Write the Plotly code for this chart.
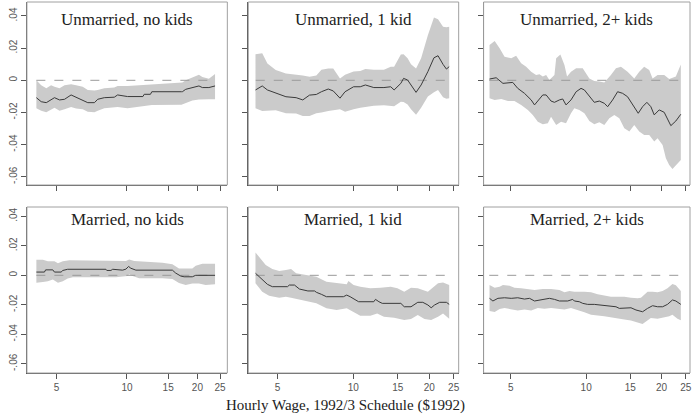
import plotly.graph_objects as go

# ---------------- data (hourly wage, $1992) ----------------
titles = ["Unmarried, no kids", "Unmarried, 1 kid", "Unmarried, 2+ kids",
          "Married, no kids", "Married, 1 kid", "Married, 2+ kids"]
x_ticks = [5, 10, 15, 20, 25]
y_ticks = [-0.06, -0.04, -0.02, 0, 0.02, 0.04]
y_ticktext = ["-.06", "-.04", "-.02", "0", ".02", ".04"]
axis_title = "Hourly Wage, 1992/3 Schedule ($1992)"
wage_span = [4.1, 23.9]

# Panel 1: Unmarried, no kids
p1_w = [4.10, 4.30, 4.52, 4.74, 4.90, 5.15, 5.41, 5.77, 6.06, 6.47, 6.80, 7.26, 7.50, 8.00,
        8.83, 9.12, 10.06, 11.70, 11.85, 12.60, 12.77, 17.10, 17.25, 17.83, 19.03, 20.31, 21.0, 22.4, 23.8]
p1_est = [-0.0108, -0.0133, -0.0139, -0.0122, -0.0108, -0.0122, -0.0118, -0.0091, -0.0105, -0.0122,
          -0.0139, -0.0139, -0.0118, -0.0108, -0.0105, -0.0091, -0.0101, -0.0101, -0.0087, -0.0087,
          -0.0071, -0.0071, -0.0071, -0.0056, -0.0045, -0.0035, -0.0045, -0.0045, -0.0035]
p1_hi = [0.0, -0.003, -0.005, -0.003, -0.004, -0.005, -0.003, -0.0025, -0.003, -0.004, -0.006,
         -0.0064, -0.006, -0.005, -0.0045, -0.0035, -0.0035, -0.003, -0.003, -0.0027, -0.0025,
         -0.0015, -0.0014, 0.0, 0.0016, 0.0035, 0.002, 0.001, 0.004]
p1_lo = [-0.0174, -0.019, -0.0199, -0.018, -0.017, -0.019, -0.018, -0.0166, -0.0175, -0.018,
         -0.0195, -0.0199, -0.019, -0.0174, -0.0168, -0.0166, -0.0174, -0.0160, -0.0158, -0.0155,
         -0.0154, -0.0152, -0.0152, -0.0143, -0.0125, -0.012, -0.0118, -0.0118, -0.0118]

# Panel 2: Unmarried, 1 kid
p2_w = [4.09, 4.35, 4.56, 4.92, 5.40, 5.93, 6.30, 6.70, 7.13, 7.47, 7.95, 8.32, 8.85, 9.27, 10.02,
        10.65, 11.16, 12.05, 13.22, 14.07, 14.51, 15.43, 15.82, 16.41, 16.93, 17.73, 18.57, 19.75,
        20.88, 21.67, 22.69, 23.40, 24.0]
p2_est = [-0.0060, -0.0035, -0.006, -0.0081, -0.0102, -0.0108, -0.0122, -0.0092, -0.0088, -0.0071,
          -0.0054, -0.0066, -0.0111, -0.0071, -0.004, -0.004, -0.0029, -0.0045, -0.0045, -0.004,
          -0.006, -0.0019, 0.0012, 0.0002, -0.0029, -0.0075, -0.0029, 0.0054, 0.014, 0.0153,
          0.0099, 0.007, 0.0085]
p2_hi = [0.0162, 0.0168, 0.0105, 0.0064, 0.0043, 0.0037, 0.003, 0.0022, 0.003, 0.0065, 0.0074,
         0.0074, 0.0012, 0.0035, 0.0055, 0.0058, 0.007, 0.0065, 0.0065, 0.0085, 0.0085, 0.016,
         0.0162, 0.0137, 0.010, 0.0074, 0.0137, 0.0281, 0.039, 0.038, 0.0333, 0.033, 0.0333]
p2_lo = [-0.0174, -0.0191, -0.019, -0.0186, -0.0205, -0.0207, -0.0222, -0.0222, -0.0205, -0.020,
         -0.0191, -0.0185, -0.018, -0.0195, -0.018, -0.017, -0.0165, -0.0158, -0.0155, -0.016,
         -0.0162, -0.0133, -0.0135, -0.015, -0.018, -0.0214, -0.017, -0.010, -0.0075, -0.006,
         -0.0105, -0.0115, -0.0112]

# Panel 3: Unmarried, 2+ kids
p3_w = [4.11, 4.37, 4.65, 5.09, 5.33, 5.67, 6.03, 6.22, 6.71, 6.92, 7.24, 7.47, 7.82, 8.06, 8.31,
        8.70, 9.12, 9.54, 9.84, 10.30, 10.78, 11.29, 11.82, 12.19, 12.76, 13.36, 13.99, 14.64,
        15.33, 16.15, 16.81, 17.49, 18.14, 18.71, 19.59, 20.51, 21.80, 22.83, 23.90]
p3_est = [0.0008, 0.0016, -0.0019, -0.0013, -0.005, -0.0081, -0.0122, -0.0153, -0.0091, -0.0091,
          -0.0129, -0.0137, -0.0122, -0.0116, -0.0153, -0.0122, -0.0071, -0.005, -0.006, -0.0102,
          -0.0137, -0.0129, -0.0143, -0.0164, -0.0122, -0.0071, -0.0081, -0.0102, -0.0153, -0.0205,
          -0.0164, -0.0137, -0.0164, -0.0215, -0.0184, -0.0199, -0.0282, -0.0253, -0.0211]
p3_hi_w = [4.11, 4.31, 4.51, 4.72, 5.02, 5.25, 5.50, 5.76, 6.03, 6.31, 6.51, 6.71, 6.92, 7.13, 7.47,
           7.59, 7.89, 8.19, 8.39, 8.70, 9.12, 9.69, 10.30, 10.78, 11.29, 11.82, 12.56, 13.16, 13.78,
           14.64, 15.57, 16.30, 17.06, 17.87, 18.43, 19.30, 20.51, 21.48, 22.83, 23.90]
p3_hi = [0.0219, 0.0244, 0.0199, 0.0147, 0.0137, 0.0153, 0.0106, 0.0085, 0.0054, 0.0033, 0.0037,
         0.0023, 0.0033, 0.0002, 0.0033, 0.0137, 0.0161, 0.0095, 0.0023, 0.0054, 0.0075, 0.0075,
         0.0012, -0.0004, -0.0008, -0.0013, 0.0033, 0.0075, 0.0085, 0.0054, 0.0012, 0.0054, 0.0085,
         0.0064, 0.0012, 0.0033, 0.0033, 0.0008, 0.0023, 0.0099]
p3_lo_w = [4.11, 4.31, 4.58, 4.87, 5.17, 5.50, 5.85, 6.12, 6.41, 6.71, 7.03, 7.24, 7.59, 7.94, 8.31,
           8.70, 8.97, 9.39, 9.84, 10.30, 10.78, 11.29, 11.82, 12.38, 12.96, 13.57, 14.21, 14.88,
           15.57, 16.30, 17.06, 17.87, 18.71, 19.30, 20.21, 20.83, 21.48, 22.13, 22.83, 23.90]
p3_lo = [-0.0112, -0.0122, -0.0116, -0.0129, -0.0129, -0.0153, -0.0184, -0.0215, -0.0257, -0.0273,
         -0.0267, -0.0226, -0.0278, -0.0257, -0.0267, -0.0205, -0.0174, -0.0184, -0.0205, -0.0253,
         -0.0273, -0.0261, -0.0278, -0.0236, -0.0215, -0.0236, -0.0298, -0.0319, -0.0278, -0.0319,
         -0.034, -0.034, -0.0381, -0.036, -0.0402, -0.0484, -0.0526, -0.0552, -0.0526, -0.0495]

# Panel 4: Married, no kids
p4_w = [4.10, 4.44, 4.49, 4.82, 4.90, 5.23, 5.32, 5.58, 8.13, 8.20, 8.54, 8.69, 9.58, 9.90, 10.16,
        10.39, 10.92, 15.64, 16.16, 16.98, 17.55, 19.03, 19.67, 23.8]
p4_est = [0.0022, 0.0022, 0.0037, 0.0037, 0.0022, 0.0022, 0.0033, 0.0041, 0.0041, 0.0033, 0.0033,
          0.0041, 0.0035, 0.0042, 0.006, 0.0048, 0.0035, 0.0035, 0.0015, -0.0005, -0.001, -0.001,
          0.0, 0.0]
p4_hi_w = [4.10, 4.37, 4.59, 4.90, 5.07, 5.32, 5.68, 8.69, 9.90, 10.22, 10.74, 14.18, 15.64, 16.69,
           19.03, 19.67, 21.0, 23.8]
p4_hi = [0.0105, 0.0105, 0.0095, 0.0095, 0.0081, 0.0095, 0.0102, 0.0097, 0.0097, 0.0108, 0.0097,
         0.0085, 0.0075, 0.0047, 0.0047, 0.0065, 0.0078, 0.0078]
p4_lo_w = [4.10, 4.37, 4.59, 4.82, 5.07, 5.32, 5.58, 5.87, 8.97, 10.06, 10.22, 10.57, 11.28, 14.18,
           15.64, 16.69, 17.83, 19.03, 20.31, 21.7, 23.8]
p4_lo = [-0.005, -0.0045, -0.004, -0.0028, -0.005, -0.004, -0.0022, -0.0013, -0.0013, -0.0005,
         0.0007, -0.0005, -0.002, -0.002, -0.0025, -0.0052, -0.0066, -0.0055, -0.0055, -0.0066, -0.006]

# Panel 5: Married, 1 kid
p5_w = [4.09, 4.22, 4.35, 4.56, 4.77, 5.48, 5.57, 5.84, 6.11, 6.60, 7.02, 7.13, 7.47, 7.82, 9.13,
        9.41, 9.71, 10.02, 10.49, 12.05, 12.24, 12.63, 13.02, 15.43, 15.92, 16.93, 17.46, 18.01,
        18.86, 19.75, 20.36, 21.0, 22.0, 23.4, 24.0]
p5_est = [0.0014, -0.0009, -0.0032, -0.0061, -0.0077, -0.0077, -0.0066, -0.0066, -0.0093, -0.0106,
          -0.0106, -0.0115, -0.0129, -0.0145, -0.0145, -0.0134, -0.0145, -0.0161, -0.0179, -0.0179,
          -0.0163, -0.0179, -0.019, -0.019, -0.0213, -0.0213, -0.0197, -0.0183, -0.0183, -0.0201,
          -0.022, -0.0201, -0.0183, -0.0183, -0.0197]
p5_hi_w = [4.09, 4.28, 4.49, 4.77, 5.08, 5.40, 5.66, 5.93, 6.50, 7.13, 7.82, 8.58, 9.41, 9.56, 10.02,
           10.65, 11.68, 12.82, 14.07, 14.96, 15.92, 16.93, 18.01, 19.75, 20.68, 21.67, 22.69, 24.0]
p5_hi = [0.0155, 0.0115, 0.007, 0.0043, 0.0029, 0.0036, 0.0043, 0.0014, 0.0002, -0.0009, -0.0043,
         -0.0054, -0.0061, -0.0039, -0.0066, -0.0077, -0.0088, -0.0084, -0.0077, -0.0088, -0.0111,
         -0.0084, -0.0088, -0.0111, -0.0084, -0.0054, -0.0048, -0.0066]
p5_lo_w = [4.09, 4.35, 4.63, 5.08, 5.40, 5.66, 6.11, 6.60, 7.13, 7.82, 8.58, 9.41, 10.02, 10.65,
           11.68, 12.43, 13.22, 14.51, 15.92, 16.93, 18.01, 19.15, 20.36, 21.67, 22.69, 24.0]
p5_lo = [-0.0054, -0.0111, -0.0138, -0.0152, -0.0145, -0.0152, -0.0167, -0.0179, -0.019, -0.0224,
         -0.0235, -0.0224, -0.0247, -0.0274, -0.0274, -0.0258, -0.0281, -0.0287, -0.0303, -0.0296,
         -0.0269, -0.0296, -0.0303, -0.0281, -0.0258, -0.0295]

# Panel 6: Married, 2+ kids
p6_w = [4.11, 4.24, 4.44, 4.72, 5.02, 5.33, 5.67, 5.94, 6.22, 6.51, 6.81, 7.13, 7.47, 7.82, 8.44,
        8.84, 8.97, 9.39, 9.69, 10.14, 10.78, 11.46, 12.38, 13.16, 13.57, 14.21, 15.11, 15.82,
        16.81, 17.60, 18.43, 19.30, 20.21, 21.14, 22.13, 22.83, 23.90]
p6_est = [-0.0156, -0.0174, -0.0156, -0.0152, -0.0156, -0.0152, -0.0161, -0.0156, -0.0174, -0.0167,
          -0.0161, -0.0156, -0.0163, -0.0174, -0.0174, -0.0163, -0.0174, -0.0179, -0.019, -0.0197,
          -0.0197, -0.0201, -0.0206, -0.0213, -0.0224, -0.0224, -0.022, -0.0235, -0.0247, -0.0224,
          -0.0206, -0.0213, -0.0213, -0.0197, -0.0167, -0.0174, -0.0197]
p6_hi_w = [4.11, 4.31, 4.51, 4.65, 4.94, 5.17, 5.50, 5.85, 6.22, 6.71, 7.24, 7.82, 8.19, 8.58, 8.97,
           9.84, 10.46, 11.12, 11.82, 12.56, 13.36, 14.21, 15.11, 16.05, 16.56, 17.06, 17.60, 18.43,
           19.30, 20.21, 21.14, 22.13, 22.83, 23.90]
p6_hi = [-0.0066, -0.0084, -0.0077, -0.0066, -0.007, -0.0084, -0.0088, -0.0093, -0.01, -0.0093,
         -0.0093, -0.01, -0.0115, -0.0106, -0.0111, -0.0111, -0.0115, -0.0129, -0.0138, -0.0145,
         -0.0145, -0.0145, -0.0152, -0.0156, -0.0152, -0.0134, -0.0111, -0.0111, -0.0115, -0.0106,
         -0.0088, -0.0058, -0.0068, -0.0106]
p6_lo_w = [4.11, 4.31, 4.51, 4.72, 5.02, 5.33, 5.67, 6.03, 6.41, 6.81, 7.24, 7.70, 8.19, 8.70, 9.25,
           9.84, 10.46, 11.12, 11.82, 12.56, 13.36, 14.21, 15.11, 16.05, 16.81, 17.60, 18.14, 19.30,
           20.51, 21.48, 22.13, 23.17, 23.90]
p6_lo = [-0.0242, -0.0248, -0.0228, -0.0222, -0.0232, -0.0238, -0.0232, -0.0238, -0.0222, -0.0226,
         -0.0222, -0.0226, -0.0232, -0.0222, -0.0238, -0.025, -0.0267, -0.0272, -0.0277, -0.0284,
         -0.029, -0.0299, -0.0306, -0.032, -0.033, -0.0306, -0.029, -0.0295, -0.0284, -0.0277,
         -0.0267, -0.0295, -0.0305]

panels = [
    (p1_w, p1_est, p1_w, p1_hi, p1_w, p1_lo),
    (p2_w, p2_est, p2_w, p2_hi, p2_w, p2_lo),
    (p3_w, p3_est, p3_hi_w, p3_hi, p3_lo_w, p3_lo),
    (p4_w, p4_est, p4_hi_w, p4_hi, p4_lo_w, p4_lo),
    (p5_w, p5_est, p5_hi_w, p5_hi, p5_lo_w, p5_lo),
    (p6_w, p6_est, p6_hi_w, p6_hi, p6_lo_w, p6_lo),
]

# ---------------- layout geometry ----------------
W, H = 693, 417
col_px = [(27, 228), (249, 460), (485, 692)]
row_px = [(2, 185), (207, 373)]
col_xrange = [(0.5724, 1.4291), (0.5831, 1.4178), (0.5902, 1.4151)]
row_yrange = [(-0.0651, 0.0487), (-0.0662, 0.0463)]
title_top_px = [8, 208]

SERIF = "Liberation Serif, Times New Roman, serif"
SANS = "Liberation Sans, Arial, sans-serif"

fig = go.Figure()
layout = dict(width=W, height=H, margin=dict(l=0, r=0, t=0, b=0),
              paper_bgcolor="white", plot_bgcolor="white", showlegend=False)
shapes = []
annotations = []

for i, (ew, ev, hw, hv, lw, lv) in enumerate(panels):
    r, c = divmod(i, 3)
    k = i + 1
    xa = "x" if k == 1 else f"x{k}"
    ya = "y" if k == 1 else f"y{k}"
    # band
    fig.add_trace(go.Scatter(x=list(hw) + list(lw)[::-1], y=list(hv) + list(lv)[::-1],
                             fill="toself", fillcolor="#cbcbcb", mode="lines",
                             line=dict(width=0, color="rgba(0,0,0,0)"),
                             xaxis=xa, yaxis=ya, hoverinfo="skip"))
    # zero reference
    fig.add_trace(go.Scatter(x=wage_span, y=[0, 0], mode="lines",
                             line=dict(color="#9a9a9a", width=1, dash="dash"),
                             xaxis=xa, yaxis=ya, hoverinfo="skip"))
    # estimate
    fig.add_trace(go.Scatter(x=ew, y=ev, mode="lines",
                             line=dict(color="#3a3a3a", width=1),
                             xaxis=xa, yaxis=ya))
    x0, x1 = col_px[c]
    y0, y1 = row_px[r]
    xkey = "xaxis" if k == 1 else f"xaxis{k}"
    ykey = "yaxis" if k == 1 else f"yaxis{k}"
    layout[xkey] = dict(type="log", domain=[x0 / W, x1 / W], range=list(col_xrange[c]),
                        anchor=ya, tickvals=x_ticks, ticktext=[str(t) for t in x_ticks],
                        showticklabels=(r == 1), ticks="outside", ticklen=5, tickwidth=1,
                        tickcolor="#555", showline=True, linecolor="#555", linewidth=1,
                        showgrid=False, zeroline=False, ticklabeloverflow="allow",
                        tickfont=dict(family=SANS, size=10, color="#555"))
    layout[ykey] = dict(domain=[1 - y1 / H, 1 - y0 / H], range=list(row_yrange[r]),
                        anchor=xa, tickvals=y_ticks, ticktext=y_ticktext,
                        showticklabels=(c == 0), tickangle=-90, ticks="outside", ticklen=5,
                        tickwidth=1, tickcolor="#555", showline=True, linecolor="#555",
                        linewidth=1, showgrid=False, zeroline=False,
                        tickfont=dict(family=SANS, size=10, color="#555"))
    shapes.append(dict(type="rect", xref=f"{xa} domain", yref=f"{ya} domain",
                       x0=0, x1=1, y0=0, y1=1, line=dict(color="#a0a0a0", width=1),
                       fillcolor="rgba(0,0,0,0)", layer="above"))
    annotations.append(dict(text=titles[i], x=(x0 + x1) / 2 / W, y=1 - title_top_px[r] / H,
                            xref="paper", yref="paper", xanchor="center", yanchor="top",
                            showarrow=False,
                            font=dict(family=SERIF, size=17, color="#222", weight="normal")))

annotations.append(dict(text=axis_title, x=347 / W, y=1 - 405 / H, xref="paper", yref="paper",
                        xanchor="center", yanchor="middle", showarrow=False,
                        font=dict(family=SERIF, size=15, color="#222", weight="normal")))
layout["shapes"] = shapes
layout["annotations"] = annotations
fig.update_layout(**layout)
fig.write_html("out.html")
